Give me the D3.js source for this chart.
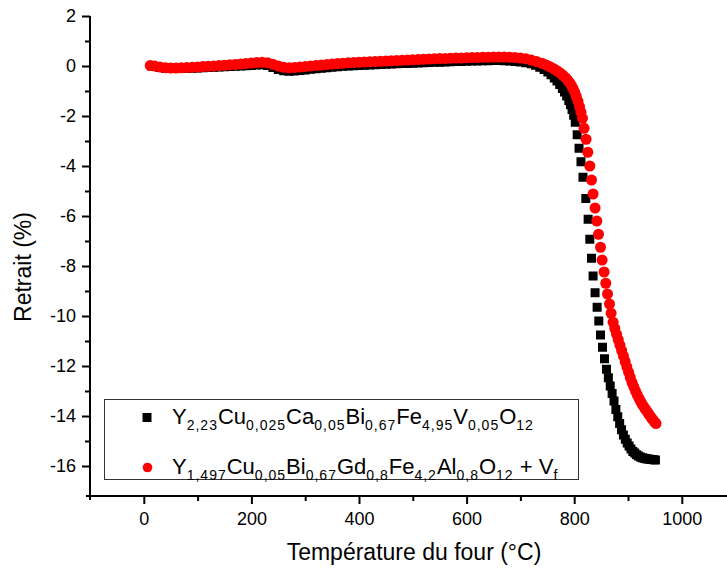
<!DOCTYPE html>
<html><head><meta charset="utf-8">
<script src="https://cdn.jsdelivr.net/npm/d3@7"></script>
<style>html,body{margin:0;padding:0;background:#fff;overflow:hidden}svg{display:block}text{font-family:"Liberation Sans",Arial,sans-serif;fill:#000}</style>
</head><body>
<svg id="c" width="727" height="571"></svg>
<script>
const tempBlack = [15,20,30,40,50,60,70,80,90,100,110,120,130,140,150,160,170,180,190,200,210,220,230,240,250,260,270,280,290,300,310,320,330,340,350,360,370,380,390,400,410,420,430,440,450,460,470,480,490,500,510,520,530,540,550,560,570,580,590,600,610,620,630,640,650,660,670,680,690,700,710,720,728,736,744,751,757,763,768,773,778,782,786,790,793,796,799,802,805.5,809,812.6,816.3,821.6,825.9,829,832.2,835.1,838.8,842.6,845.7,848.9,852.6,856.3,860,863.5,867,870.5,874,877.5,881,884.5,888,891.5,895,898.5,902,905.5,909,912.5,916,919.5,923,926.5,930,933.5,937,940.5,944,947.5,951];
const retraitBlack = [0,-0.02,-0.06,-0.09,-0.1,-0.1,-0.1,-0.09,-0.09,-0.08,-0.07,-0.06,-0.05,-0.04,-0.03,-0.02,-0.01,0,0.01,0.02,0.04,0.05,0.02,-0.06,-0.14,-0.19,-0.21,-0.2,-0.18,-0.16,-0.13,-0.11,-0.09,-0.07,-0.05,-0.03,-0.01,0,0.01,0.02,0.03,0.04,0.05,0.06,0.07,0.08,0.09,0.1,0.1,0.11,0.12,0.13,0.14,0.15,0.15,0.16,0.17,0.18,0.18,0.19,0.2,0.2,0.21,0.21,0.22,0.22,0.21,0.2,0.18,0.16,0.13,0.09,0.03,-0.05,-0.14,-0.24,-0.35,-0.48,-0.6,-0.74,-0.9,-1.04,-1.2,-1.38,-1.55,-1.74,-1.97,-2.25,-2.75,-3.29,-3.83,-4.45,-5.3,-6.13,-6.93,-7.69,-8.4,-9.07,-9.65,-10.2,-10.76,-11.25,-11.71,-12.13,-12.47,-12.8,-13.1,-13.4,-13.74,-14.03,-14.3,-14.55,-14.76,-14.93,-15.08,-15.2,-15.32,-15.42,-15.48,-15.55,-15.6,-15.64,-15.67,-15.69,-15.71,-15.72,-15.73,-15.74,-15.75,-15.76];
const tempRed = [12,20,30,40,50,60,70,80,90,100,110,120,130,140,150,160,170,180,190,200,210,220,230,240,250,260,270,280,290,300,310,320,330,340,350,360,370,380,390,400,410,420,430,440,450,460,470,480,490,500,510,520,530,540,550,560,570,580,590,600,610,620,630,640,650,660,670,680,690,700,710,720,730,740,748,755,762,768,774,779,784,788,792,795,798,801,804,807,810,812.6,815.4,818.4,822.1,825.3,829,832.2,835.1,838.8,842,845.2,848.9,851.9,855.6,858.7,861.9,865.6,868.6,872.3,875.5,878.7,881.9,885.1,888.3,891.5,894.7,897.9,901.1,904.3,907.5,910.7,913.9,917.1,920.3,923.5,926.7,929.9,933.1,936.3,939.5,942.7,945.9,949.1,952];
const retraitRed = [0.02,0,-0.04,-0.07,-0.08,-0.08,-0.07,-0.06,-0.05,-0.04,-0.02,-0.01,0,0.02,0.03,0.05,0.06,0.08,0.1,0.12,0.14,0.15,0.13,0.07,0,-0.05,-0.07,-0.06,-0.04,-0.02,0,0.02,0.04,0.06,0.08,0.1,0.11,0.13,0.14,0.15,0.16,0.17,0.18,0.19,0.2,0.21,0.22,0.23,0.24,0.25,0.26,0.27,0.28,0.29,0.3,0.3,0.31,0.32,0.32,0.33,0.34,0.34,0.35,0.35,0.36,0.36,0.36,0.35,0.34,0.32,0.29,0.24,0.18,0.11,0.04,-0.03,-0.11,-0.19,-0.28,-0.37,-0.47,-0.57,-0.68,-0.79,-0.91,-1.05,-1.22,-1.41,-1.63,-1.85,-2.09,-2.49,-2.93,-3.45,-4.0,-4.56,-5.12,-5.68,-6.2,-6.73,-7.25,-7.76,-8.24,-8.69,-9.12,-9.52,-9.89,-10.25,-10.5,-10.73,-10.95,-11.17,-11.39,-11.6,-11.82,-12.04,-12.25,-12.46,-12.66,-12.83,-13.0,-13.15,-13.29,-13.42,-13.54,-13.65,-13.75,-13.85,-13.95,-14.05,-14.14,-14.23,-14.3];
const xMajorTicks = [0,200,400,600,800,1000];
const xMinorTicks = [100,300,500,700,900];
const yMajorTicks = [2,0,-2,-4,-6,-8,-10,-12,-14,-16];
const yMinorTicks = [1,-1,-3,-5,-7,-9,-11,-13,-15];
const legendLine1 = [["Y","2,23"],["Cu","0,025"],["Ca","0,05"],["Bi","0,67"],["Fe","4,95"],["V","0,05"],["O","12"]];
const legendLine2 = [["Y","1,497"],["Cu","0,05"],["Bi","0,67"],["Gd","0,8"],["Fe","4,2"],["Al","0,8"],["O","12"],[" + V","f"]];
const xTitle = "Température du four (°C)";
const yTitle = "Retrait (%)";

const svg = d3.select("#c");
const x = d3.scaleLinear().domain([-100,1100]).range([90,735.6]);
const y = d3.scaleLinear().domain([-17.2,2]).range([496,16]);

// axes
const gx = svg.append("g").attr("transform",`translate(0,${y(-17.2)})`);
gx.call(d3.axisBottom(x).tickValues(xMajorTicks).tickSize(8).tickPadding(8).tickFormat(d3.format("d")));
gx.append("g").call(d3.axisBottom(x).tickValues(xMinorTicks).tickSize(5).tickFormat(""));
const gy = svg.append("g").attr("transform",`translate(${x(-100)},0)`);
gy.call(d3.axisLeft(y).tickValues(yMajorTicks).tickSize(8).tickPadding(6).tickFormat(d=>d3.format("d")(d).replace("−","-")));
gy.append("g").call(d3.axisLeft(y).tickValues(yMinorTicks).tickSize(5).tickFormat(""));
svg.selectAll(".domain").remove();
[gx,gy].forEach(g=>{
  g.selectAll("line").attr("stroke","#000").attr("stroke-width",2);
  g.selectAll("text").style("font-size","18px").style("font-family","'Liberation Sans',Arial,sans-serif").attr("fill","#000");
});
gx.selectAll(".tick text").attr("dy","0.71em");
svg.append("line").attr("x1",x(-100)-4).attr("x2",727).attr("y1",y(-17.2)).attr("y2",y(-17.2)).attr("stroke","#000").attr("stroke-width",2);
svg.append("line").attr("x1",x(-100)).attr("x2",x(-100)).attr("y1",y(2)).attr("y2",y(-17.2)+4).attr("stroke","#000").attr("stroke-width",2);

// titles
svg.append("text").attr("x",414).attr("y",560).attr("text-anchor","middle").style("font-size","23px").text(xTitle);
svg.append("text").attr("transform",`translate(31,267) rotate(-90)`).attr("text-anchor","middle").style("font-size","23px").text(yTitle);

// data
const blackData = tempBlack.map((t,i)=>({t,v:retraitBlack[i]}));
const redData = tempRed.map((t,i)=>({t,v:retraitRed[i]}));
const sq = 9;
svg.append("g").selectAll("rect").data(blackData).join("rect")
  .attr("x",d=>x(d.t)-sq/2).attr("y",d=>y(d.v)-sq/2).attr("width",sq).attr("height",sq).attr("fill","#000");
svg.append("g").selectAll("circle").data(redData).join("circle")
  .attr("cx",d=>x(d.t)).attr("cy",d=>y(d.v)).attr("r",5.5).attr("fill","#ff0000");

// legend
svg.append("rect").attr("x",104.5).attr("y",399.5).attr("width",474).attr("height",80).attr("fill","#fff").attr("stroke","#333").attr("stroke-width",1);
svg.append("rect").attr("x",147-4.5).attr("y",417.5-4.5).attr("width",9).attr("height",9).attr("fill","#000");
svg.append("circle").attr("cx",147.5).attr("cy",467.5).attr("r",4.8).attr("fill","#ff0000");
function legendText(parts, yb){
  const t = svg.append("text").attr("x",172).attr("y",yb).style("font-size","22px").style("white-space","pre");
  parts.forEach(([main,sub],i)=>{
    t.append("tspan").attr("dy",i===0?0:-6).text(main);
    t.append("tspan").attr("dy",6).style("font-size","14px").style("letter-spacing","1px").text(sub);
  });
}
legendText(legendLine1,423.5);
legendText(legendLine2,473.5);
</script>
</body></html>
